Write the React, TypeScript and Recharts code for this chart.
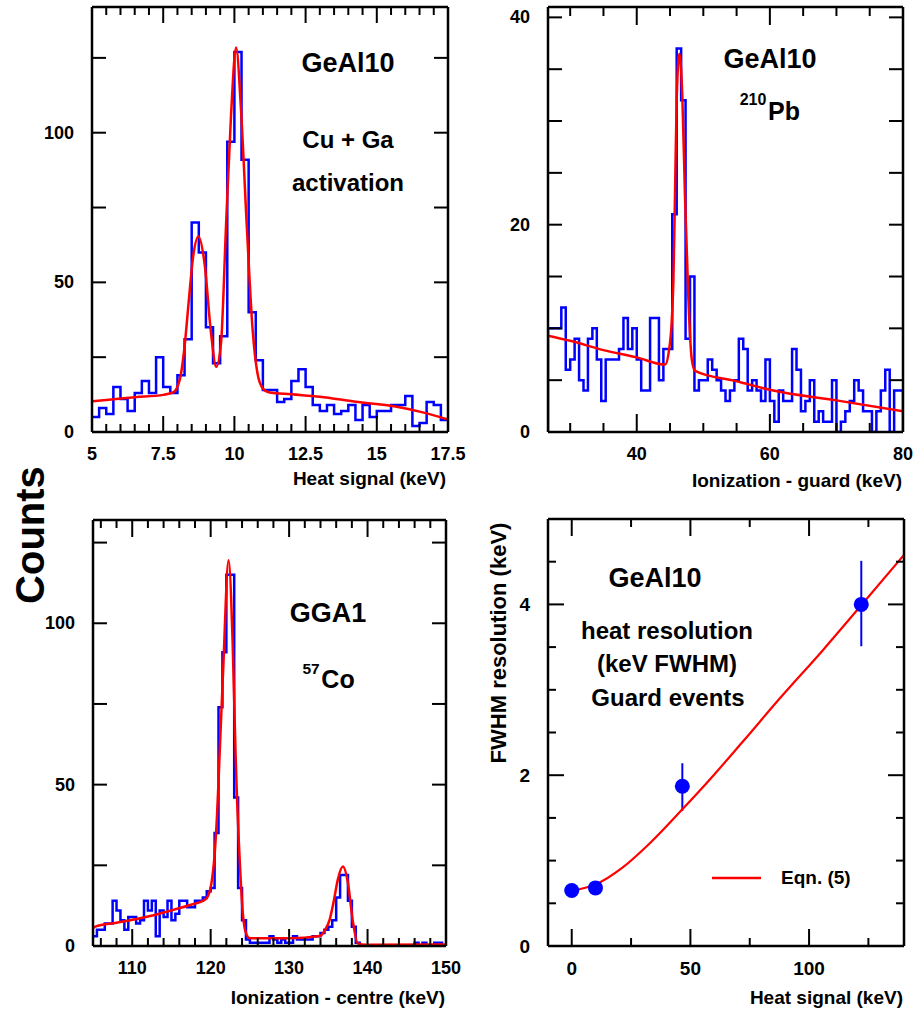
import React from "react";
import { ComposedChart, Line, XAxis, YAxis, Scatter, ErrorBar, Legend } from "recharts";

const FONT = '"Liberation Sans", Arial, Helvetica, sans-serif';
const BLUE = "#0000ff";
const RED = "#ff0000";

// ---- top left: GeAl10 heat signal, Cu + Ga activation (0.25 keV bins from 5 keV)
const heatBinStart = 5;
const heatBinWidth = 0.25;
const heatCounts = [
  5, 8, 6, 15, 11, 7, 13, 17, 13, 25, 15, 13, 19, 31, 70, 60, 35, 23, 32, 97,
  127, 91, 40, 24, 14, 14, 10, 11, 17, 21, 15, 9, 7, 9, 6, 7, 9, 4, 9, 5,
  7, 7, 9, 9, 12, 2, 3, 10, 9, 4,
];
const heatFitX = [5, 5.5, 6.5, 7.5, 7.85, 8.08, 8.25, 8.4, 8.55, 8.74, 8.95, 9.18, 9.36, 9.53, 9.71, 9.88, 10.06, 10.23, 10.43, 10.64, 10.81, 11.0, 11.2, 12.0, 13.0, 14.25, 15.65, 16.5, 17.5];
const heatFitY = [10.3, 10.7, 11.6, 12.4, 13.2, 17.4, 28.5, 44, 58.5, 65.3, 56.4, 33, 21.8, 29.7, 69.8, 105.5, 128.5, 108, 69.8, 34.1, 19.6, 14.5, 13.3, 12.6, 11.8, 10.1, 8.5, 6.8, 4.2];
const heatXLabels = [5, 7.5, 10, 12.5, 15, 17.5];
const countYLabels = [0, 50, 100];

// ---- top right: GeAl10 ionization guard, 210Pb (2/3 keV bins)
const guardBinStart = 26.667;
const guardBinWidth = 0.6667;
const guardCounts = [
  10, 10, 10, 12, 6, 7, 9, 5, 4, 9,
  10, 7, 3, 7, 7, 7, 8, 11, 8, 10,
  7, 4, 4, 11, 11, 5, 8, 8, 21, 37,
  32, 9, 15, 4, 5, 5, 7, 6, 5, 4,
  3, 4, 5, 9, 8, 4, 5, 4, 3, 7,
  3, 1, 4, 3, 3, 8, 6, 2, 3, 5,
  1, 2, 1, 1, 5, 0, 1, 2, 3, 5,
  4, 2, 2, 0, 2, 4, 6, 0, 4, 4,
];
const guardFitX = [26.667, 30, 35, 40, 44.25, 44.85, 45.25, 45.5, 45.75, 46.0, 46.4, 46.85, 47.25, 47.75, 48.25, 48.75, 55, 60.5, 70, 80];
const guardFitY = [9.3, 8.8, 7.9, 7.2, 6.5, 7.9, 10.6, 14.5, 23, 32, 36.5, 32.3, 22.7, 13, 7.1, 5.9, 4.9, 4.0, 3.05, 2.0];
const guardXLabels = [40, 60, 80];
const guardYLabels = [0, 20, 40];

// ---- bottom left: GGA1 ionization centre, 57Co (0.5 keV bins from 105 keV)
const centreBinStart = 105;
const centreBinWidth = 0.5;
const centreCounts = [
  3, 5, 5, 7, 7, 14, 11, 8, 5, 9,
  9, 7, 8, 14, 11, 14, 3, 11, 9, 14,
  8, 10, 14, 14, 12, 12, 14, 14, 15, 17,
  18, 35, 74, 91, 115, 115, 46, 18, 8, 2,
  1, 1, 1, 1, 1, 3, 2, 1, 2, 1,
  1, 3, 2, 2, 2, 2, 3, 3, 4, 5,
  6, 8, 15, 22, 22, 14, 6, 1, 0, 0,
  0, 0, 0, 0, 0, 0, 0, 0, 0, 0,
  0, 0, 1, 0, 1, 0, 0, 1, 1, 0,
];
const centreFitX = [105, 105.3, 108, 111, 113, 115.24, 117.5, 119, 119.5, 120.1, 120.55, 120.8, 121.0, 121.2, 121.6, 122.28, 122.8, 123.17, 123.3, 123.7, 124.1, 124.5, 125, 130, 133.9, 134.6, 135.16, 135.7, 136.2, 136.85, 137.5, 138.1, 138.75, 139.8, 150];
const centreFitY = [5.6, 6.0, 7.2, 8.6, 9.7, 11.2, 12.8, 14.0, 14.8, 19.5, 29.8, 40, 51, 63, 86, 119.5, 94, 60, 50, 26.7, 10.1, 4.0, 2.4, 2.4, 3.1, 5.0, 8.1, 14, 20.5, 24.6, 19.5, 8.1, 0.8, 0.4, 0.5];
const centreXLabels = [110, 120, 130, 140, 150];

// ---- bottom right: heat resolution vs energy
const fwhmX = [0, 10, 46.6, 122];
const fwhmY = [0.65, 0.68, 1.87, 4.0];
const fwhmErrLo = [0, 0, 0.29, 0.49];
const fwhmErrHi = [0, 0, 0.27, 0.51];
const eqnX = [0.7, 10, 21.5, 32.8, 46.6, 58.2, 72.3, 87.7, 106, 122, 140];
const eqnY = [0.65, 0.72, 0.92, 1.2, 1.6, 1.95, 2.4, 2.9, 3.47, 3.99, 4.58];
const resXLabels = [0, 50, 100];
const resYLabels = [0, 2, 4];

const range = (a: number, b: number, step: number) => {
  const out: number[] = [];
  for (let v = a; v <= b + 1e-9; v += step) out.push(+v.toFixed(4));
  return out;
};

const zip = (xs: number[], ys: number[]) => xs.map((x, i) => ({ x, y: ys[i] }));

const histPoints = (start: number, width: number, counts: number[], closed = false) => {
  const end = start + counts.length * width;
  const pts = counts.map((c, i) => ({ x: start + i * width, y: c }));
  pts.push({ x: end, y: counts[counts.length - 1] });
  if (closed) {
    pts.unshift({ x: start, y: 0 });
    pts.push({ x: end, y: 0 });
  }
  return pts;
};

const isIn = (arr: number[], v: number) => arr.some((m) => Math.abs(m - v) < 1e-6);

type Side = "bottom" | "top" | "left" | "right";

// every frame edge draws its marks pointing into the plot; bottom and left also carry the numbers
const frameTick =
  (side: Side, major: number[], labels: number[], majorLen: number, minorLen: number, fs: number) =>
  (p: any) => {
    const v = Number(p.payload.value);
    const len = isIn(major, v) ? majorLen : minorLen;
    const { x, y } = p;
    const d =
      side === "bottom" ? `M${x},${y}V${y - len}` :
      side === "top" ? `M${x},${y}V${y + len}` :
      side === "left" ? `M${x},${y}H${x + len}` :
      `M${x},${y}H${x - len}`;
    const showLabel = (side === "bottom" || side === "left") && isIn(labels, v);
    return (
      <g>
        <path d={d} stroke="#000" strokeWidth={2} fill="none" />
        {showLabel && (
          <text
            x={side === "left" ? x - 18 : x}
            y={side === "left" ? y : y + 22}
            textAnchor={side === "left" ? "end" : "middle"}
            dominantBaseline="central"
            fontFamily={FONT}
            fontWeight="bold"
            fontSize={fs}
            fill="#000"
          >
            {String(v)}
          </text>
        )}
      </g>
    );
  };

const PL = 70;
const PT = 10;
const PR = 30;
const PB = 70;
const AXIS = { stroke: "#000", strokeWidth: 2.5 };

type PanelProps = {
  left: number;
  top: number;
  w: number;
  h: number;
  xDomain: [number, number];
  yDomain: [number, number];
  xTicks: number[];
  xMajor: number[];
  xLabels: number[];
  yTicks: number[];
  yMajor: number[];
  yLabels: number[];
  xLen: [number, number];
  yLen: [number, number];
  fs: number;
  children: React.ReactNode;
};

const Panel = (p: PanelProps) => {
  const common = { tickSize: 0, tickMargin: 0, tickLine: false, axisLine: AXIS, allowDataOverflow: true, interval: 0 as const };
  return (
    <div style={{ position: "absolute", left: p.left - PL, top: p.top - PT }}>
      <ComposedChart width={p.w + PL + PR} height={p.h + PT + PB} margin={{ top: PT - 1, right: PR - 1, bottom: PB - 1, left: 0 }}>
        <XAxis xAxisId={0} dataKey="x" type="number" domain={p.xDomain} ticks={p.xTicks} height={1} {...common}
          tick={frameTick("bottom", p.xMajor, p.xLabels, p.xLen[0], p.xLen[1], p.fs)} />
        <XAxis xAxisId="top" orientation="top" dataKey="x" type="number" domain={p.xDomain} ticks={p.xTicks} height={1} {...common}
          tick={frameTick("top", p.xMajor, [], p.xLen[0], p.xLen[1], p.fs)} />
        <YAxis yAxisId={0} type="number" domain={p.yDomain} ticks={p.yTicks} width={PL} {...common}
          tick={frameTick("left", p.yMajor, p.yLabels, p.yLen[0], p.yLen[1], p.fs)} />
        <YAxis yAxisId="right" orientation="right" type="number" domain={p.yDomain} ticks={p.yTicks} width={1} {...common}
          tick={frameTick("right", p.yMajor, [], p.yLen[0], p.yLen[1], p.fs)} />
        {p.children}
      </ComposedChart>
    </div>
  );
};

const Txt = ({ x, y, size, anchor = "middle", rotate = false, children }: any) => {
  const tx = anchor === "middle" ? "-50%" : anchor === "end" ? "-100%" : "0";
  return (
    <div
      style={{
        position: "absolute",
        left: x,
        top: y,
        transform: `translate(${tx}, -50%)${rotate ? " rotate(-90deg)" : ""}`,
        fontFamily: FONT,
        fontWeight: "bold",
        fontSize: size,
        lineHeight: 1,
        whiteSpace: "nowrap",
        color: "#000",
      }}
    >
      {children}
    </div>
  );
};

const EqnLegend = (props: any) => {
  const items = (props.payload || []).filter((e: any) => e.type !== "none");
  return (
    <div>
      {items.map((e: any) => (
        <div key={e.value} style={{ display: "flex", alignItems: "center", height: 24 }}>
          <svg width={49} height={4}>
            <line x1={0} y1={2} x2={49} y2={2} stroke={e.color} strokeWidth={2.5} />
          </svg>
          <span style={{ marginLeft: 20, fontFamily: FONT, fontWeight: "bold", fontSize: 19, color: "#000" }}>{e.value}</span>
        </div>
      ))}
    </div>
  );
};

const Dot = (p: any) => <circle cx={p.cx} cy={p.cy} r={7.5} fill={BLUE} />;

export default function App() {
  const heatHist = histPoints(heatBinStart, heatBinWidth, heatCounts);
  const guardHist = histPoints(guardBinStart, guardBinWidth, guardCounts, true);
  const centreHist = histPoints(centreBinStart, centreBinWidth, centreCounts);
  const fwhmPts = fwhmX.map((x, i) => ({ x, y: fwhmY[i], err: [fwhmErrLo[i], fwhmErrHi[i]] }));

  return (
    <div style={{ position: "absolute", left: 0, top: 0, width: 914, height: 1013, background: "#fff", overflow: "hidden" }}>
      <Panel left={92} top={7} w={356} h={425} xDomain={[5, 17.5]} yDomain={[0, 142]}
        xTicks={range(5, 17.5, 0.5)} xMajor={heatXLabels} xLabels={heatXLabels}
        yTicks={range(0, 125, 25)} yMajor={range(0, 125, 25)} yLabels={countYLabels}
        xLen={[16, 8]} yLen={[14, 14]} fs={18}>
        <Line data={heatHist} dataKey="y" type="stepAfter" stroke={BLUE} strokeWidth={2.5} dot={false} isAnimationActive={false} />
        <Line data={zip(heatFitX, heatFitY)} dataKey="y" type="monotone" stroke={RED} strokeWidth={2.5} dot={false} isAnimationActive={false} />
      </Panel>

      <Panel left={548} top={7} w={355} h={425} xDomain={[26.667, 80]} yDomain={[0, 41]}
        xTicks={range(30, 80, 5)} xMajor={guardXLabels} xLabels={guardXLabels}
        yTicks={range(0, 40, 5)} yMajor={range(0, 40, 5)} yLabels={guardYLabels}
        xLen={[18, 9]} yLen={[14, 14]} fs={18}>
        <Line data={guardHist} dataKey="y" type="stepAfter" stroke={BLUE} strokeWidth={2.5} dot={false} isAnimationActive={false} />
        <Line data={zip(guardFitX, guardFitY)} dataKey="y" type="monotone" stroke={RED} strokeWidth={2.5} dot={false} isAnimationActive={false} />
      </Panel>

      <Panel left={93} top={520} w={353} h={426} xDomain={[105, 150]} yDomain={[0, 132]}
        xTicks={range(106, 150, 2)} xMajor={centreXLabels} xLabels={centreXLabels}
        yTicks={range(0, 125, 25)} yMajor={range(0, 125, 25)} yLabels={countYLabels}
        xLen={[17, 8]} yLen={[14, 14]} fs={18}>
        <Line data={centreHist} dataKey="y" type="stepAfter" stroke={BLUE} strokeWidth={2.5} dot={false} isAnimationActive={false} />
        <Line data={zip(centreFitX, centreFitY)} dataKey="y" type="monotone" stroke={RED} strokeWidth={2.5} dot={false} isAnimationActive={false} />
      </Panel>

      <Panel left={548} top={519} w={356} h={427} xDomain={[-10, 140]} yDomain={[0, 5]}
        xTicks={[0, 25, 50, 75, 100, 125]} xMajor={resXLabels} xLabels={resXLabels}
        yTicks={range(0, 4.5, 0.5)} yMajor={resYLabels} yLabels={resYLabels}
        xLen={[17, 8]} yLen={[16, 8]} fs={19}>
        <Scatter data={fwhmPts} dataKey="y" shape={Dot} legendType="none" isAnimationActive={false}>
          <ErrorBar dataKey="err" direction="y" width={0} stroke={BLUE} strokeWidth={2} />
        </Scatter>
        <Line data={zip(eqnX, eqnY)} dataKey="y" name="Eqn. (5)" type="monotone" stroke={RED} strokeWidth={2.2} dot={false} isAnimationActive={false} />
        <Legend layout="horizontal" verticalAlign="middle" align="center" content={EqnLegend}
          wrapperStyle={{ position: "absolute", left: 712 - 478, top: 878 - 509 - 12, width: 200, height: 24 }} />
      </Panel>

      {/* panel annotations */}
      <Txt x={348} y={63} size={27}>GeAl10</Txt>
      <Txt x={348} y={140} size={24}>Cu + Ga</Txt>
      <Txt x={348} y={183} size={24}>activation</Txt>

      <Txt x={770} y={59} size={27}>GeAl10</Txt>
      <Txt x={753} y={100} size={16}>210</Txt>
      <Txt x={784} y={111} size={25}>Pb</Txt>

      <Txt x={328} y={613} size={27}>GGA1</Txt>
      <Txt x={311} y={669} size={15.5}>57</Txt>
      <Txt x={338} y={679} size={25}>Co</Txt>

      <Txt x={655} y={578} size={27}>GeAl10</Txt>
      <Txt x={667} y={631} size={24}>heat resolution</Txt>
      <Txt x={667} y={664} size={24}>(keV FWHM)</Txt>
      <Txt x={668} y={698} size={24}>Guard events</Txt>

      {/* axis titles */}
      <Txt x={446} y={478} size={19} anchor="end">Heat signal (keV)</Txt>
      <Txt x={902} y={480} size={19} anchor="end">Ionization - guard (keV)</Txt>
      <Txt x={445} y={997} size={19} anchor="end">Ionization - centre (keV)</Txt>
      <Txt x={903} y={997} size={19} anchor="end">Heat signal (keV)</Txt>
      <Txt x={30} y={535} size={40} rotate>Counts</Txt>
      <Txt x={499} y={643} size={22} rotate>FWHM resolution (keV)</Txt>
    </div>
  );
}
